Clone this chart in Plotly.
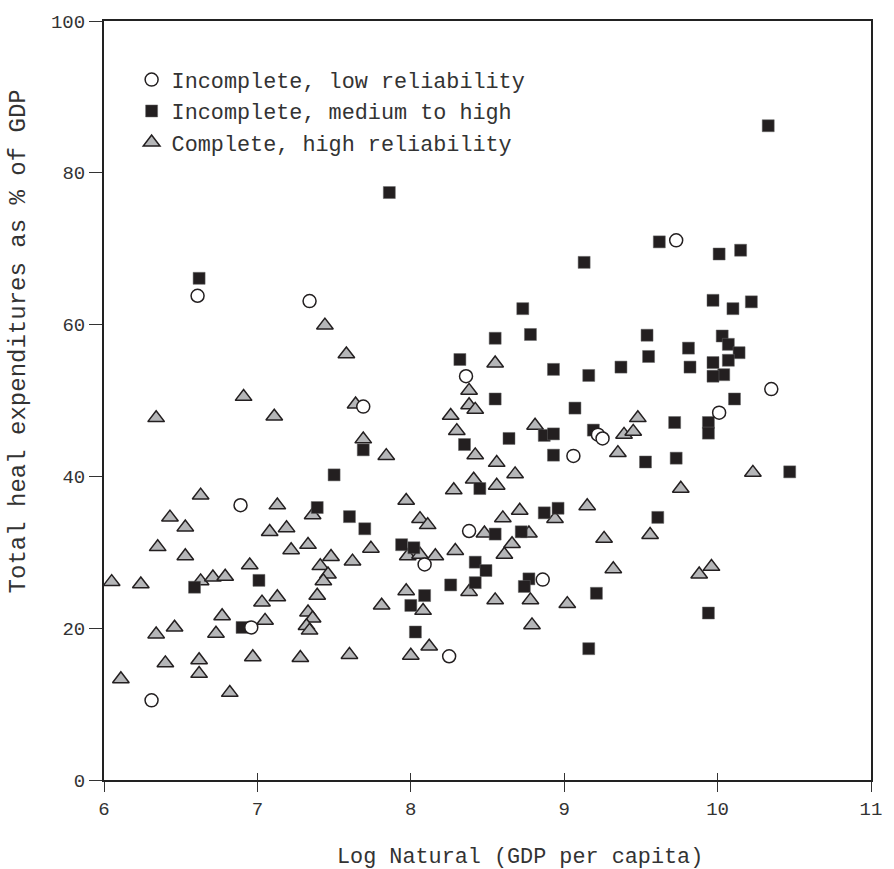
import plotly.graph_objects as go

# Incomplete, low reliability (open circles)
low_x = [6.61, 7.34, 7.69, 6.89, 6.96, 6.31, 8.09, 8.25, 8.36, 8.38, 8.86, 9.06,
         9.22, 9.25, 9.73, 10.01, 10.35]
low_y = [63.8, 63.1, 49.2, 36.2, 20.1, 10.5, 28.4, 16.3, 53.2, 32.8, 26.4, 42.7,
         45.5, 45.0, 71.1, 48.4, 51.5]

# Incomplete, medium to high (filled squares)
med_x = [6.62, 7.86, 9.13, 10.33, 9.62, 10.01, 10.15,
         9.97, 10.10, 10.22, 9.54, 9.55, 9.37, 9.81, 9.82, 10.03, 10.07, 10.14,
         10.07, 9.97, 10.04, 9.97, 10.11, 9.72, 9.94, 9.94, 9.53, 9.73, 10.47,
         9.61, 9.94,
         8.73, 8.55, 8.78, 8.32, 8.93, 9.16, 8.55, 9.07, 8.87, 8.93, 9.19, 8.35,
         8.64, 8.93, 8.45, 8.87, 8.96, 8.55, 8.72, 7.94, 8.02,
         7.69, 7.50, 7.39, 7.60, 7.70, 7.01, 6.59, 6.90,
         8.42, 8.49, 8.42, 8.26, 8.77, 8.74, 9.21, 9.16, 8.09, 8.00, 8.03]
med_y = [66.1, 77.4, 68.2, 86.2, 70.9, 69.3, 69.8,
         63.2, 62.1, 63.0, 58.6, 55.8, 54.4, 56.9, 54.4, 58.5, 57.4, 56.3,
         55.3, 55.0, 53.4, 53.2, 50.2, 47.1, 47.1, 45.7, 41.9, 42.4, 40.6,
         34.6, 22.0,
         62.1, 58.2, 58.7, 55.4, 54.1, 53.3, 50.2, 49.0, 45.4, 45.6, 46.1, 44.2,
         45.0, 42.8, 38.4, 35.2, 35.8, 32.4, 32.7, 31.0, 30.6,
         43.5, 40.2, 35.9, 34.7, 33.1, 26.3, 25.4, 20.1,
         28.7, 27.6, 26.0, 25.7, 26.5, 25.5, 24.6, 17.3, 24.3, 23.0, 19.5]

# Complete, high reliability (grey triangles)
high_x = [7.44, 7.58, 6.91, 7.11, 6.34, 7.64, 7.69, 7.84, 6.63, 7.13, 7.36, 6.43,
          6.53, 7.08, 7.19,
          6.35, 6.53, 7.22, 7.33, 7.48, 7.74, 7.62, 7.41, 7.46, 7.43, 6.95, 6.05,
          6.24, 6.63, 6.71, 6.79, 7.03, 7.13, 7.39, 7.81, 7.33, 7.36, 7.32, 7.34,
          6.77, 7.05, 6.46, 6.34, 6.73, 6.40, 6.62, 6.62, 6.97, 7.28, 7.60, 6.11,
          6.82,
          8.55, 8.38, 8.38, 8.42, 8.26, 8.30, 8.81, 9.39, 8.42, 9.35, 8.56, 8.68,
          8.41, 8.56, 8.28, 7.97, 8.06, 8.11, 8.60, 8.71, 8.94, 9.15, 8.48, 8.77,
          9.26, 8.66,
          7.98, 8.06, 8.16, 8.29, 8.61, 8.38, 8.55, 8.78, 9.02, 8.79, 9.32, 7.97,
          8.08, 8.12, 8.00,
          9.48, 9.45, 10.23, 9.76, 9.56, 9.88, 9.96]
high_y = [59.9, 56.1, 50.5, 47.9, 47.7, 49.5, 44.9, 42.7, 37.5, 36.2, 34.9, 34.6,
          33.3, 32.7, 33.2,
          30.7, 29.5, 30.3, 31.0, 29.4, 30.5, 28.8, 28.2, 27.1, 26.2, 28.3, 26.1,
          25.8, 26.2, 26.7, 26.8, 23.4, 24.1, 24.3, 23.0, 22.1, 21.3, 20.3, 19.7,
          21.6, 21.0, 20.1, 19.2, 19.3, 15.4, 15.8, 14.0, 16.2, 16.1, 16.5, 13.3,
          11.5,
          54.9, 51.3, 49.4, 48.8, 48.0, 46.0, 46.7, 45.5, 42.8, 43.1, 41.8, 40.3,
          39.6, 38.8, 38.2, 36.8, 34.4, 33.6, 34.5, 35.5, 34.4, 36.1, 32.5, 32.5,
          31.8, 31.1,
          29.5, 29.7, 29.5, 30.2, 29.7, 24.8, 23.7, 23.7, 23.2, 20.4, 27.8, 24.9,
          22.3, 17.6, 16.4,
          47.7, 45.9, 40.5, 38.4, 32.3, 27.1, 28.1]

x_ticks = [6, 7, 8, 9, 10, 11]
y_ticks = [0, 20, 40, 60, 80, 100]

series_names = ["Incomplete, low reliability",
                "Incomplete, medium to high",
                "Complete, high reliability"]

FONT = "Courier New, Courier, Liberation Mono, monospace"
INK = "#231f20"
TXT = "#333333"

fig = go.Figure()
fig.add_trace(go.Scatter(
    x=high_x, y=high_y, mode="markers", name=series_names[2], legendrank=3,
    marker=dict(symbol="triangle-up", size=14.5, color="#b5b6b8",
                line=dict(color=INK, width=1.5))))
fig.add_trace(go.Scatter(
    x=med_x, y=med_y, mode="markers", name=series_names[1], legendrank=2,
    marker=dict(symbol="square", size=12, color=INK,
                line=dict(color="#666666", width=0.5))))
fig.add_trace(go.Scatter(
    x=low_x, y=low_y, mode="markers", name=series_names[0], legendrank=1,
    marker=dict(symbol="circle", size=13, color="white",
                line=dict(color=INK, width=1.5))))
# helper trace for the inner half of the crossing x ticks
fig.add_trace(go.Scatter(x=[x_ticks[0], x_ticks[-1]], y=[None, None], xaxis="x2",
                         mode="markers", showlegend=False, hoverinfo="skip"))

fig.update_layout(
    width=894, height=869,
    margin=dict(l=104, r=20, t=15, b=89),
    paper_bgcolor="white", plot_bgcolor="white",
    font=dict(family=FONT, color=TXT),
    showlegend=True,
    legend=dict(x=0.036, y=0.950, xanchor="left", yanchor="top",
                bgcolor="rgba(0,0,0,0)", borderwidth=0,
                font=dict(family=FONT, size=21.8, color=TXT)),
    xaxis=dict(range=[6, 11], tickvals=x_ticks, ticktext=[str(v) for v in x_ticks],
               ticks="outside", ticklen=10, tickwidth=1, tickcolor=TXT,
               showline=True, linewidth=2, linecolor="#222222", mirror=True,
               showgrid=False, zeroline=False,
               tickfont=dict(family=FONT, size=19, color=TXT)),
    xaxis2=dict(range=[6, 11], tickvals=x_ticks, overlaying="x", side="bottom",
                ticks="inside", ticklen=7, tickwidth=1, tickcolor=TXT,
                showticklabels=False, showline=False, showgrid=False, zeroline=False),
    yaxis=dict(range=[0, 100], tickvals=y_ticks, ticktext=[str(v) for v in y_ticks],
               ticks="outside", ticklen=13, tickwidth=1, tickcolor=TXT,
               showline=True, linewidth=2, linecolor="#222222", mirror=True,
               showgrid=False, zeroline=False,
               tickfont=dict(family=FONT, size=19, color=TXT)),
    annotations=[
        dict(text="Log Natural (GDP per capita)", xref="paper", yref="paper",
             x=0.543, y=-0.102, xanchor="center", yanchor="middle", showarrow=False,
             font=dict(family=FONT, size=21.8, color=TXT)),
        dict(text="Total heal expenditures as % of GDP", xref="paper", yref="paper",
             x=-0.112, y=0.578, xanchor="center", yanchor="middle", showarrow=False,
             textangle=-90, font=dict(family=FONT, size=24, color=TXT)),
    ],
)

fig.write_html("out.html")
